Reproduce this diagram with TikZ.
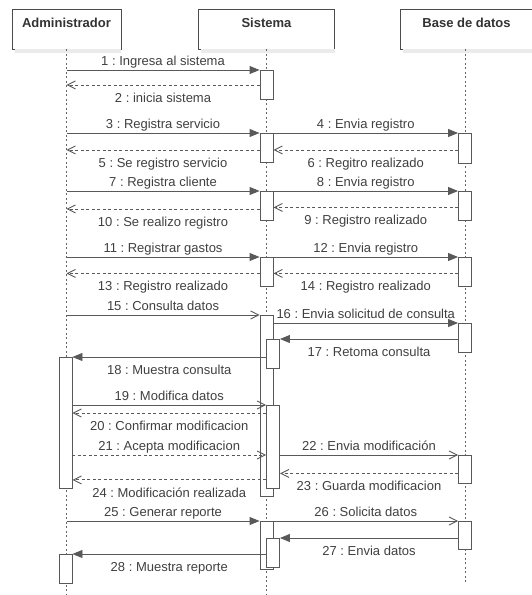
\documentclass[tikz,border=0pt]{standalone}
\usepackage{fontspec}
\setmainfont{Liberation Sans}
\usepackage{xcolor}
\usetikzlibrary{arrows.meta}
\frenchspacing

\begin{document}
\begin{tikzpicture}[x=1pt,y=-1pt,line width=0.9pt,
  head/.style={draw=black!70,fill=white,minimum height=40pt,inner sep=0pt,
    text height=9.5pt,text depth=13pt,text=black!80,
    font=\fontsize{13}{15}\selectfont\bfseries},
  life/.style={black!60,dash pattern=on 2pt off 2.5pt},
  act/.style={draw=black!65,fill=white,minimum width=13pt,inner sep=0pt,anchor=north},
  call/.style={black!65,-{Triangle[length=10pt,width=8pt]}},
  async/.style={black!65,-{Straight Barb[length=8pt,width=8pt]}},
  reply/.style={async,dash pattern=on 3pt off 2.5pt},
  up/.style={midway,above,inner sep=1pt,text height=9.5pt,text depth=2.7pt,
    text=black!75,font=\fontsize{13}{15}\selectfont},
  down/.style={up,below,yshift=-6.5pt}]
\useasboundingbox (0,0) rectangle (532,595);
\clip (0,0) rectangle (532,595);
\fill[white] (0,0) rectangle (532,595);

% cabeceras
\node[head,minimum width=109pt] (adm) at (66.5,29) {Administrador};
\node[head,minimum width=136pt] (sis) at (266.5,29) {Sistema};
\node[head,minimum width=133pt] (bd) at (466.5,29) {Base de datos};
\fill[black!8] ([xshift=3pt]adm.south west) rectangle ([yshift=-4pt]adm.south east);
\fill[black!8] ([xshift=3pt]sis.south west) rectangle ([yshift=-4pt]sis.south east);
\fill[black!8] ([xshift=3pt]bd.south west) rectangle ([yshift=-4pt]bd.south east);

\coordinate (admEnd) at (66.5,595);
\coordinate (sisEnd) at (266.5,595);
\coordinate (bdEnd) at (465,583);
\draw[life] (adm.south) -- (admEnd);
\draw[life] (sis.south) -- (sisEnd);
\draw[life] (bd.south -| bdEnd) -- (bdEnd);

% activaciones
\node[act,minimum height=29pt] (s1) at (266.5,70) {};
\node[act,minimum height=29pt] (s2) at (266.5,133) {};
\node[act,minimum height=30pt] (b2) at (465,133) {};
\node[act,minimum height=29pt] (s3) at (266.5,191) {};
\node[act,minimum height=29pt] (b3) at (465,191) {};
\node[act,minimum height=29pt] (s4) at (266.5,257) {};
\node[act,minimum height=29pt] (b4) at (465,257) {};
\node[act,minimum height=181pt] (s5) at (266.5,315) {};
\node[act,minimum height=29pt] (b5) at (465,323) {};
\node[act,minimum height=29pt] (s6) at (273,339) {};
\node[act,minimum height=131pt] (a1) at (65.5,357) {};
\node[act,minimum height=83pt] (s7) at (273,405) {};
\node[act,minimum height=28pt] (b6) at (465,455) {};
\node[act,minimum height=48pt] (s8) at (266.5,521) {};
\node[act,minimum height=28pt] (b7) at (465,521) {};
\node[act,minimum height=29pt] (s9) at (273,538) {};
\node[act,minimum height=29pt] (a2) at (65.5,554) {};

% mensajes
\draw[call] (adm |- s1.north) -- (s1.north west) node[up]{1 : Ingresa al sistema};
\draw[reply] (s1.west) -- (adm |- s1.west) node[down]{2 : inicia sistema};

\draw[call] (adm |- s2.north) -- (s2.north west) node[up]{3 : Registra servicio};
\draw[call] (s2.north east) -- (b2.north west) node[up]{4 : Envia registro};
\coordinate (m5) at ([yshift=-2pt]s2.west);
\draw[reply] (m5) -- (adm |- m5) node[down]{5 : Se registro servicio};
\draw[reply] (b2.west |- m5) -- (s2.east |- m5) node[down]{6 : Regitro realizado};

\draw[call] (adm |- s3.north) -- (s3.north west) node[up]{7 : Registra cliente};
\draw[call] (s3.north east) -- (b3.north west) node[up]{8 : Envia registro};
\coordinate (m9) at ([yshift=-1.5pt]b3.west);
\coordinate (m10) at ([yshift=-3pt]s3.west);
\draw[reply] (m9) -- (s3.east |- m9) node[down]{9 : Registro realizado};
\draw[reply] (m10) -- (adm |- m10) node[down]{10 : Se realizo registro};

\draw[call] (adm |- s4.north) -- (s4.north west) node[up]{11 : Registrar gastos};
\draw[call] (s4.north east) -- (b4.north west) node[up]{12 : Envia registro};
\coordinate (m13) at ([yshift=-1.5pt]s4.west);
\draw[reply] (m13) -- (adm |- m13) node[down]{13 : Registro realizado};
\draw[reply] (b4.west |- m13) -- (s4.east |- m13) node[down]{14 : Registro realizado};

\draw[async] (adm |- s5.north) -- (s5.north west) node[up]{15 : Consulta datos};
\draw[call] (s5.east |- b5.north) -- (b5.north west) node[up]{16 : Envia solicitud de consulta};
\draw[call] (b5.west |- s6.north) -- (s6.north east) node[down]{17 : Retoma consulta};
\draw[call] (s6.west |- a1.north) -- (a1.north east) node[down]{18 : Muestra consulta};

\draw[async] (a1.east |- s7.north) -- (s7.north west) node[up]{19 : Modifica datos};
\coordinate (m20) at ([yshift=-8pt]s7.north west);
\draw[reply] (m20) -- (a1.east |- m20) node[down]{20 : Confirmar modificacion};
\draw[reply] (a1.east |- b6.north) -- (s7.west |- b6.north) node[up]{21 : Acepta modificacion};
\draw[async] (s7.east |- b6.north) -- (b6.north west) node[up]{22 : Envia modificación};
\coordinate (m23) at ([yshift=-4pt]b6.west);
\draw[reply] (m23) -- (s7.east |- m23) node[down]{23 : Guarda modificacion};
\coordinate (m24) at ([yshift=9pt]s7.south west);
\draw[reply] (m24) -- (a1.east |- m24) node[down]{24 : Modificación realizada};

\draw[call] (adm |- s8.north) -- (s8.north west) node[up]{25 : Generar reporte};
\draw[async] (s8.east |- b7.north) -- (b7.north west) node[up]{26 : Solicita datos};
\draw[call] (b7.west |- s9.north) -- (s9.north east) node[down]{27 : Envia datos};
\draw[call] (s9.west |- a2.north) -- (a2.north east) node[down]{28 : Muestra reporte};
\end{tikzpicture}
\end{document}
